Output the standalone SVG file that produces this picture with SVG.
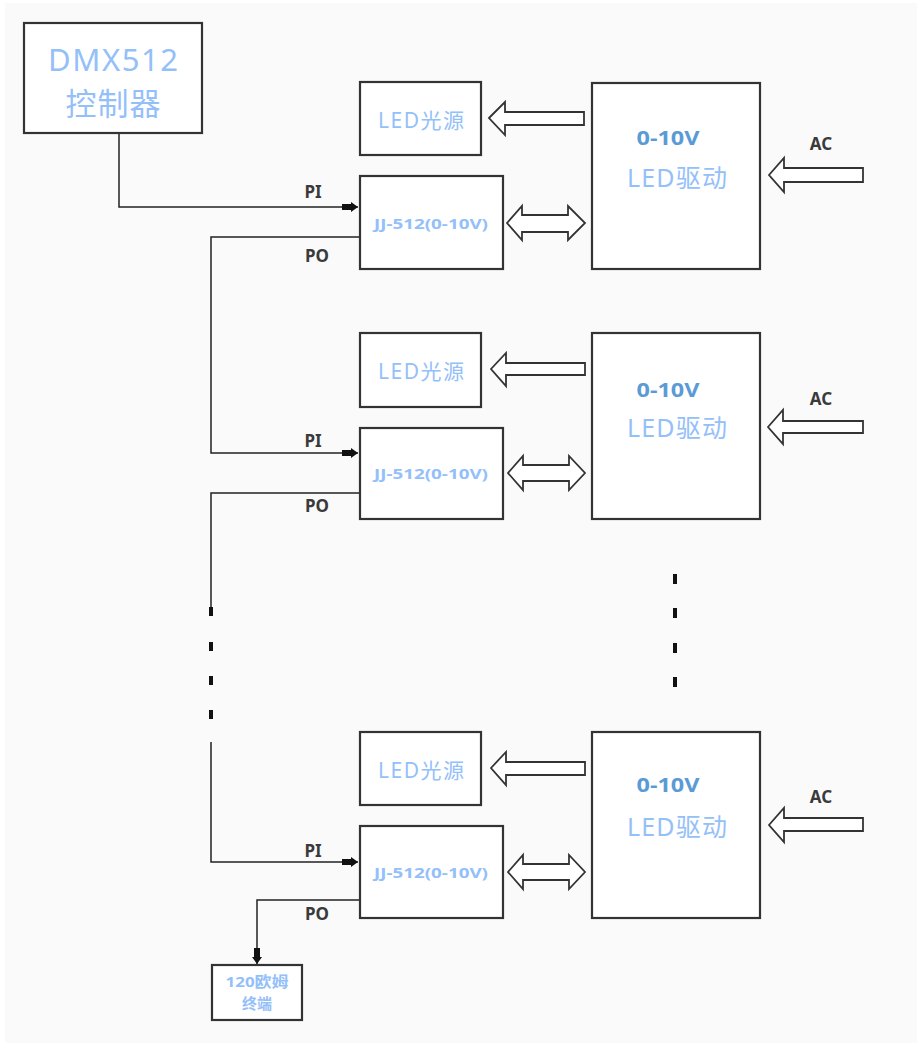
<svg xmlns="http://www.w3.org/2000/svg" width="922" height="1048" viewBox="0 0 922 1048">
<defs>
<style>
.box{fill:#fff;stroke:#333;stroke-width:2.2}
.harrow{fill:#fff;stroke:#333;stroke-width:1.8;stroke-linejoin:miter}
.wire{fill:none;stroke:#222;stroke-width:1.5}
.dash{fill:#111}
.lbl{font-family:"Noto Sans","Noto Sans CJK SC",sans-serif;font-weight:bold;fill:#3a3a3a;text-anchor:middle;dominant-baseline:central}
.light{font-family:"Noto Sans","Noto Sans CJK SC",sans-serif;fill:#94c0fa;text-anchor:middle;dominant-baseline:central}
.jj{font-family:"Noto Sans","Noto Sans CJK SC",sans-serif;font-weight:bold;fill:#94c0fa;font-size:15px;text-anchor:middle;dominant-baseline:central}
.v{font-family:"Noto Sans","Noto Sans CJK SC",sans-serif;font-weight:bold;fill:#5b9bd5;font-size:20px;text-anchor:middle;dominant-baseline:central}
</style>
<marker id="ah" viewBox="0 0 16 10" refX="16" refY="5" markerWidth="16" markerHeight="10" markerUnits="userSpaceOnUse" orient="auto">
<path d="M0,2 H9 V0 L16,5 L9,10 V8 H0 Z" fill="#111"/>
</marker>
</defs>
<rect x="0" y="0" width="922" height="1048" fill="#fff"/>
<rect x="5" y="3" width="912" height="1040" fill="#fafafa"/>

<g id="connectors">
<path class="wire" d="M119,133 V207 H358" marker-end="url(#ah)"/>
<path class="wire" d="M360,237 H211 V453 H358" marker-end="url(#ah)"/>
<path class="wire" d="M360,493 H211 V612"/>
<rect class="dash" x="209" y="607" width="4" height="9"/>
<rect class="dash" x="209" y="642" width="4" height="9"/>
<rect class="dash" x="209" y="676" width="4" height="9"/>
<rect class="dash" x="209" y="710" width="4" height="9"/>
<path class="wire" d="M211,742 V862 H358" marker-end="url(#ah)"/>
<path class="wire" d="M360,900 H257 V964" marker-end="url(#ah)"/>
<rect class="dash" x="673" y="574" width="4" height="10"/>
<rect class="dash" x="673" y="608" width="4" height="10"/>
<rect class="dash" x="673" y="643" width="4" height="10"/>
<rect class="dash" x="673" y="677" width="4" height="10"/>
<text class="lbl" x="313" y="191" font-size="17">PI</text>
<text class="lbl" x="317" y="255" font-size="17">PO</text>
<text class="lbl" x="313" y="440" font-size="17">PI</text>
<text class="lbl" x="317" y="505" font-size="17">PO</text>
<text class="lbl" x="313" y="850" font-size="17">PI</text>
<text class="lbl" x="317" y="913" font-size="17">PO</text>
</g>

<g id="dmx">
<rect class="box" x="24" y="23" width="178" height="110"/>
<text class="light" x="113" y="59" font-size="31" textLength="130" lengthAdjust="spacing">DMX512</text>
<text class="light" x="113" y="103" font-size="31" textLength="95" lengthAdjust="spacing">控制器</text>
</g>

<g id="row1">
<g id="led1"><rect class="box" x="360" y="82" width="121" height="73"/><text class="light" x="421" y="120" font-size="21" textLength="86" lengthAdjust="spacing">LED光源</text></g>
<g id="jj1"><rect class="box" x="360" y="176" width="143" height="93"/><text class="jj" x="431" y="223" textLength="114" lengthAdjust="spacingAndGlyphs">JJ-512(0-10V)</text></g>
<g id="drv1"><rect class="box" x="592" y="83" width="168" height="186"/><text class="v" x="668" y="137" textLength="63" lengthAdjust="spacingAndGlyphs">0-10V</text><text class="light" x="677" y="177" font-size="25" textLength="100" lengthAdjust="spacing">LED驱动</text></g>
<polygon class="harrow" points="489,118 505,102 505,112 584,112 584,125 505,125 505,135"/>
<polygon class="harrow" points="507,223 522,206 522,215 568,215 568,206 585,223 568,240 568,232 522,232 522,240"/>
<polygon class="harrow" points="769,175 784,158 784,168 863,168 863,182 784,182 784,192"/>
<text class="lbl" x="821" y="143" font-size="17">AC</text>
</g>

<g id="row2">
<g id="led2"><rect class="box" x="360" y="333" width="121" height="74"/><text class="light" x="421" y="371" font-size="21" textLength="86" lengthAdjust="spacing">LED光源</text></g>
<g id="jj2"><rect class="box" x="360" y="428" width="143" height="91"/><text class="jj" x="431" y="473" textLength="114" lengthAdjust="spacingAndGlyphs">JJ-512(0-10V)</text></g>
<g id="drv2"><rect class="box" x="592" y="333" width="168" height="186"/><text class="v" x="668" y="389" textLength="63" lengthAdjust="spacingAndGlyphs">0-10V</text><text class="light" x="677" y="427" font-size="25" textLength="100" lengthAdjust="spacing">LED驱动</text></g>
<polygon class="harrow" points="491,369 506,353 506,363 585,363 585,375 506,375 506,386"/>
<polygon class="harrow" points="508,473 523,456 523,465 569,465 569,456 585,473 569,490 569,481 523,481 523,490"/>
<polygon class="harrow" points="768,427 783,410 783,421 863,421 863,433 783,433 783,444"/>
<text class="lbl" x="821" y="398" font-size="17">AC</text>
</g>

<g id="row3">
<g id="led3"><rect class="box" x="360" y="732" width="121" height="73"/><text class="light" x="421" y="770" font-size="21" textLength="86" lengthAdjust="spacing">LED光源</text></g>
<g id="jj3"><rect class="box" x="360" y="826" width="143" height="92"/><text class="jj" x="431" y="872" textLength="114" lengthAdjust="spacingAndGlyphs">JJ-512(0-10V)</text></g>
<g id="drv3"><rect class="box" x="592" y="732" width="168" height="186"/><text class="v" x="668" y="784" textLength="63" lengthAdjust="spacingAndGlyphs">0-10V</text><text class="light" x="677" y="826" font-size="25" textLength="100" lengthAdjust="spacing">LED驱动</text></g>
<polygon class="harrow" points="491,768 506,752 506,762 585,762 585,775 506,775 506,785"/>
<polygon class="harrow" points="508,872 523,855 523,864 569,864 569,855 585,872 569,889 569,880 523,880 523,889"/>
<polygon class="harrow" points="769,825 784,808 784,818 863,818 863,831 784,831 784,842"/>
<text class="lbl" x="821" y="796" font-size="17">AC</text>
</g>

<g id="terminal">
<rect class="box" x="212" y="965" width="90" height="55"/>
<text class="jj" x="257" y="981" textLength="63" lengthAdjust="spacingAndGlyphs">120欧姆</text>
<text class="jj" x="257" y="1003">终端</text>
</g>
</svg>
